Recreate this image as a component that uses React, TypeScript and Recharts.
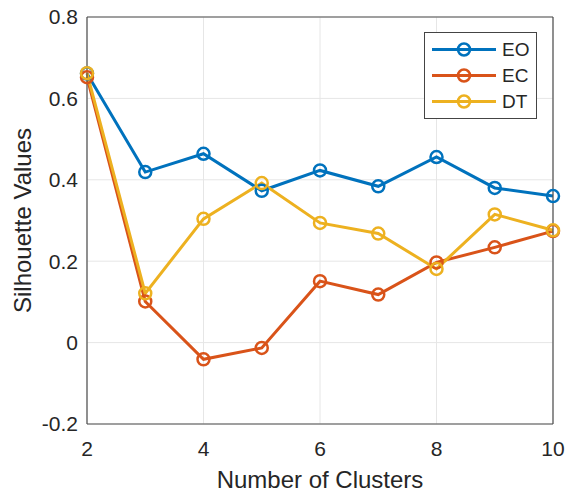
import { LineChart, Line, XAxis, YAxis, CartesianGrid, Legend } from "recharts";

const CLUSTERS = [2, 3, 4, 5, 6, 7, 8, 9, 10];
const EO = [0.661, 0.419, 0.464, 0.373, 0.423, 0.384, 0.456, 0.38, 0.36];
const EC = [0.652, 0.101, -0.041, -0.013, 0.151, 0.118, 0.197, 0.234, 0.274];
const DT = [0.662, 0.121, 0.304, 0.392, 0.294, 0.268, 0.181, 0.315, 0.276];

const X_TICKS = [2, 4, 6, 8, 10];
const Y_TICKS = [-0.2, 0, 0.2, 0.4, 0.6, 0.8];

const SERIES = [
  { key: "EO", values: EO, color: "#0072BD" },
  { key: "EC", values: EC, color: "#D95319" },
  { key: "DT", values: DT, color: "#EDB120" },
];

const rows = CLUSTERS.map((k, i) => {
  const row: Record<string, number> = { k };
  SERIES.forEach((s) => (row[s.key] = s.values[i]));
  return row;
});

const FONT = "'Liberation Sans', Arial, Helvetica, sans-serif";
const TXT = "#262626";
const AXIS = "#4d4d4d";

const fmtY = (v: number) => (v === 0 ? "0" : v.toFixed(1));

// rotated y title, centred on the plot area
const YTitle = ({ viewBox }: any) => {
  const cx = viewBox.x + 22;
  const cy = viewBox.y + viewBox.height / 2;
  return (
    <text
      x={cx}
      y={cy}
      transform={`rotate(-90 ${cx} ${cy})`}
      textAnchor="middle"
      dominantBaseline="central"
      fontSize={24}
      fontFamily={FONT}
      fill={TXT}
    >
      Silhouette Values
    </text>
  );
};

const LegendBox = () => (
  <svg width={113} height={87} style={{ display: "block" }}>
    <rect x={0.5} y={0.5} width={112} height={86} fill="#fff" stroke="#444" />
    {SERIES.map((s, i) => {
      const y = 17.5 + i * 26;
      return (
        <g key={s.key}>
          <line x1={8} x2={72} y1={y} y2={y} stroke={s.color} strokeWidth={3} />
          <circle cx={40} cy={y} r={6} fill="none" stroke={s.color} strokeWidth={2.5} />
          <text x={78} y={y} dominantBaseline="central" fontSize={19} fontFamily={FONT} fill={TXT}>
            {s.key}
          </text>
        </g>
      );
    })}
  </svg>
);

export default function App() {
  return (
    <div style={{ position: "absolute", left: 0, top: 0, background: "#fff" }}>
      <LineChart
        width={566}
        height={494}
        data={rows}
        margin={{ top: 17, right: 13, bottom: 0, left: 0 }}
      >
        <CartesianGrid stroke="#e6e6e6" strokeWidth={1} />
        <XAxis
          dataKey="k"
          type="number"
          domain={[2, 10]}
          ticks={X_TICKS}
          height={70}
          tickLine={false}
          tickSize={0}
          tickMargin={17}
          axisLine={{ stroke: AXIS, strokeWidth: 1.2 }}
          tick={{ fontSize: 21, fontFamily: FONT, fill: TXT }}
          label={{
            value: "Number of Clusters",
            position: "insideBottom",
            offset: 6,
            fontSize: 24,
            fontFamily: FONT,
            fill: TXT,
          }}
        />
        <XAxis
          xAxisId="bt"
          dataKey="k"
          type="number"
          domain={[2, 10]}
          ticks={X_TICKS}
          mirror
          tick={false}
          tickSize={5}
          axisLine={false}
          tickLine={{ stroke: AXIS }}
        />
        <XAxis
          xAxisId="top"
          orientation="top"
          dataKey="k"
          type="number"
          domain={[2, 10]}
          ticks={X_TICKS}
          mirror
          tick={false}
          tickSize={5}
          axisLine={{ stroke: AXIS, strokeWidth: 1.2 }}
          tickLine={{ stroke: AXIS }}
        />
        <YAxis
          type="number"
          domain={[-0.2, 0.8]}
          ticks={Y_TICKS}
          width={87}
          tickLine={false}
          tickSize={0}
          tickMargin={9}
          tickFormatter={fmtY}
          axisLine={{ stroke: AXIS, strokeWidth: 1.2 }}
          tick={{ fontSize: 21, fontFamily: FONT, fill: TXT }}
          label={<YTitle />}
        />
        <YAxis
          yAxisId="lt"
          type="number"
          domain={[-0.2, 0.8]}
          ticks={Y_TICKS}
          mirror
          tick={false}
          tickSize={5}
          axisLine={false}
          tickLine={{ stroke: AXIS }}
        />
        <YAxis
          yAxisId="rt"
          orientation="right"
          type="number"
          domain={[-0.2, 0.8]}
          ticks={Y_TICKS}
          mirror
          tick={false}
          tickSize={5}
          axisLine={{ stroke: AXIS, strokeWidth: 1.2 }}
          tickLine={{ stroke: AXIS }}
        />
        {SERIES.map((s) => (
          <Line
            key={s.key}
            dataKey={s.key}
            stroke={s.color}
            strokeWidth={3}
            dot={{ r: 6, fill: "none", stroke: s.color, strokeWidth: 2.5 }}
            activeDot={false}
            isAnimationActive={false}
          />
        ))}
        <Legend
          layout="vertical"
          align="center"
          verticalAlign="middle"
          content={<LegendBox />}
          wrapperStyle={{ left: 424, top: 32, width: 113, height: 87 }}
        />
      </LineChart>
    </div>
  );
}
